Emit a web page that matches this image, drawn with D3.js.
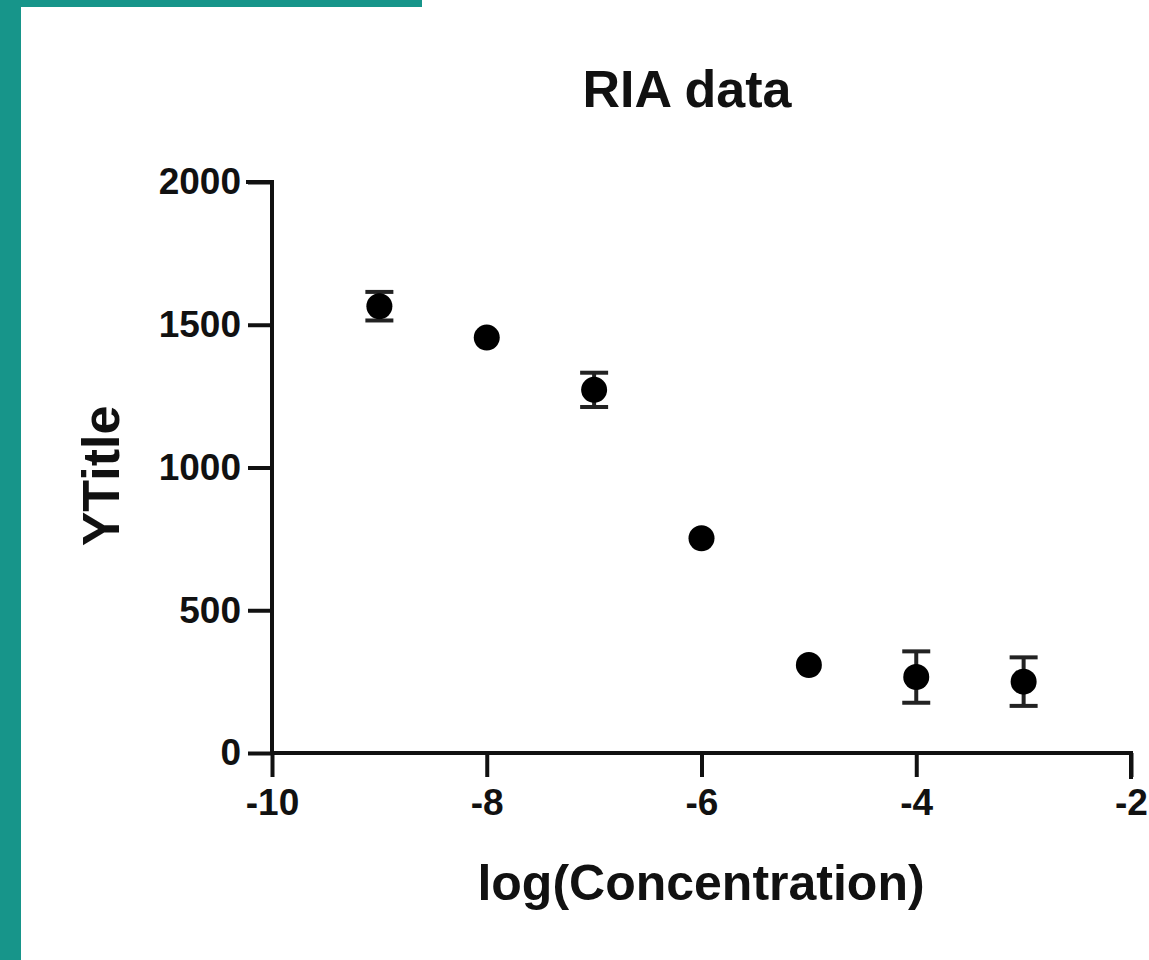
<!DOCTYPE html>
<html>
<head>
    <meta charset="utf-8">
    <title>RIA data</title>
    <script src="https://d3js.org/d3.v7.min.js"></script>
    <style>
        body {
            margin: 0;
            background: #fff;
            font-family: Arial, "Liberation Sans", sans-serif;
        }
        svg text {
            font-weight: bold;
            fill: #111;
        }
    </style>
</head>
<body>
    <div id="chart"></div>

    <script>
        // Data
        const logConc = [-9, -8, -7, -6, -5, -4, -3];
        const meanValues = [1565, 1455, 1272, 752, 308, 266, 250];
        const semValues = [50, 20, 60, 15, 15, 90, 85];
        const xTicks = [-10, -8, -6, -4, -2];
        const yTicks = [0, 500, 1000, 1500, 2000];

        const width = 1149, height = 960;
        const markerR = 13;

        const svg = d3.select('#chart')
            .append('svg')
            .attr('width', width)
            .attr('height', height);

        // teal frame strips
        svg.append('rect').attr('x', 0).attr('y', 0).attr('width', 422).attr('height', 7).attr('fill', '#17958a');
        svg.append('rect').attr('x', 0).attr('y', 0).attr('width', 21).attr('height', height).attr('fill', '#17958a');

        // Scales
        const x = d3.scaleLinear().domain([-10, -2]).range([272, 1131]);
        const y = d3.scaleLinear().domain([0, 2000]).range([753, 182]);

        // Axes (plain hyphen for negatives, like the original)
        const fmt = d => String(d);
        const xAxis = svg.append('g')
            .attr('transform', `translate(0,${y(0)})`)
            .call(d3.axisBottom(x).tickValues(xTicks).tickSize(24).tickPadding(12).tickFormat(fmt));
        const yAxis = svg.append('g')
            .attr('transform', `translate(${x(-10)},0)`)
            .call(d3.axisLeft(y).tickValues(yTicks).tickSize(24).tickPadding(7).tickFormat(fmt));

        [xAxis, yAxis].forEach(g => {
            g.select('.domain').attr('stroke', '#111').attr('stroke-width', 4)
                .attr('stroke-linecap', 'square');
            g.selectAll('.tick line').attr('stroke', '#111').attr('stroke-width', 4);
            g.selectAll('.tick text')
                .attr('fill', '#111')
                .style('font-size', '37px')
                .style('font-weight', 'bold')
                .style('font-family', 'Arial, "Liberation Sans", sans-serif');
        });
        xAxis.select('.domain').attr('d', `M${x(-10)},0H${x(-2)}V24`);
        yAxis.select('.domain').attr('d', `M-24,${y(2000)}H0V${y(0)}`);

        const pts = logConc.map((c, i) => ({ c, m: meanValues[i], e: semValues[i] }));

        // Error bars: like Prism, skip those hidden inside the symbol
        const visible = pts.filter(d => y(d.m) - y(d.m + d.e) > markerR);
        const eb = svg.append('g').selectAll('g').data(visible).join('g');
        eb.append('line')
            .attr('x1', d => x(d.c)).attr('x2', d => x(d.c))
            .attr('y1', d => y(d.m + d.e)).attr('y2', d => y(d.m - d.e))
            .attr('stroke', '#222').attr('stroke-width', 4);
        eb.append('line')
            .attr('x1', d => x(d.c) - 14).attr('x2', d => x(d.c) + 14)
            .attr('y1', d => y(d.m + d.e)).attr('y2', d => y(d.m + d.e))
            .attr('stroke', '#222').attr('stroke-width', 4);
        eb.append('line')
            .attr('x1', d => x(d.c) - 14).attr('x2', d => x(d.c) + 14)
            .attr('y1', d => y(d.m - d.e)).attr('y2', d => y(d.m - d.e))
            .attr('stroke', '#222').attr('stroke-width', 4);

        // Points
        svg.append('g').selectAll('circle').data(pts).join('circle')
            .attr('cx', d => x(d.c))
            .attr('cy', d => y(d.m))
            .attr('r', markerR)
            .attr('fill', '#000');

        // Titles
        svg.append('text')
            .attr('x', 687).attr('y', 107)
            .attr('text-anchor', 'middle')
            .style('font-size', '52px')
            .text('RIA data');

        svg.append('text')
            .attr('x', 701).attr('y', 900)
            .attr('text-anchor', 'middle')
            .style('font-size', '50px')
            .text('log(Concentration)');

        svg.append('text')
            .attr('transform', 'translate(119,476) rotate(-90)')
            .attr('text-anchor', 'middle')
            .style('font-size', '52px')
            .text('YTitle');
    </script>
</body>
</html>
